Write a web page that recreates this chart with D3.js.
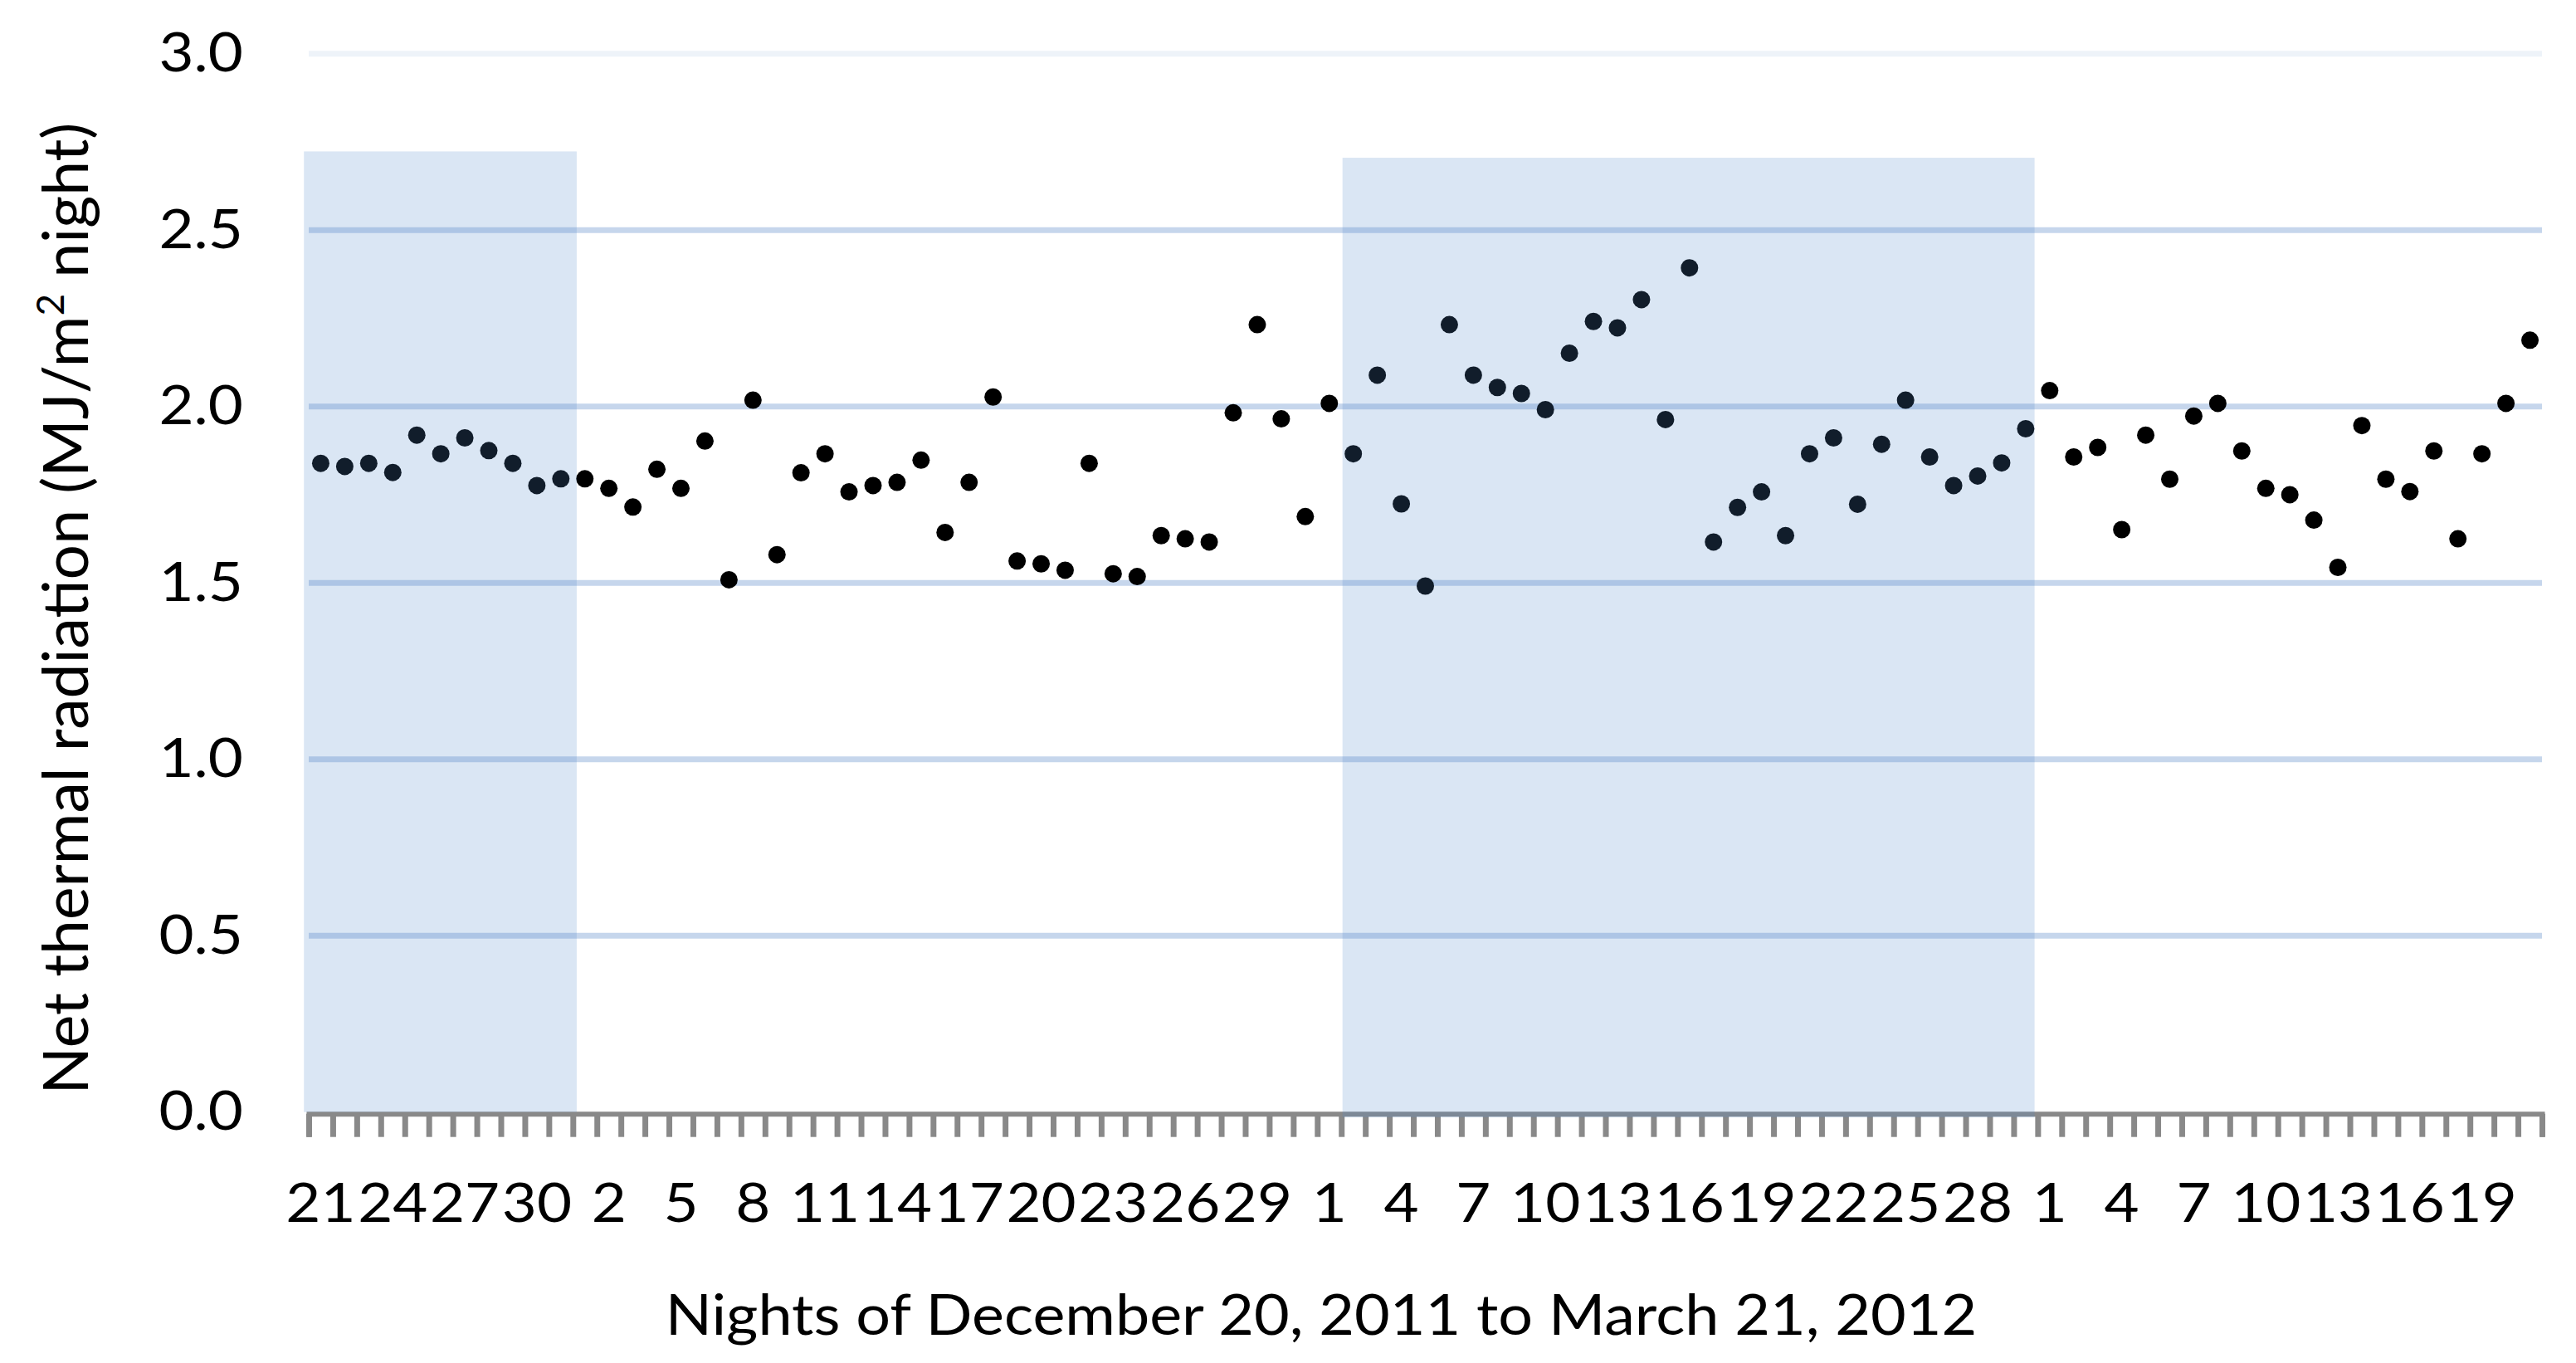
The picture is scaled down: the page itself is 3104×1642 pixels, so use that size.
<!DOCTYPE html>
<html>
<head>
<meta charset="utf-8">
<script src="https://cdn.jsdelivr.net/npm/d3@7"></script>
<style>
  html, body { margin: 0; padding: 0; background: #ffffff; }
  svg { display: block; }
  text { font-family: Lato, "Open Sans", sans-serif; fill: #000; }
</style>
</head>
<body>
<svg id="chart" width="3104" height="1642"></svg>
<script>
// Net thermal radiation per night (MJ/m2 night), 93 nights
const values = [
  1.839, 1.830, 1.839, 1.813, 1.919, 1.866, 1.911, 1.875, 1.839, 1.776,
  1.795, 1.795, 1.768, 1.715, 1.822, 1.768, 1.902, 1.509, 2.018, 1.580,
  1.812, 1.866, 1.758, 1.776, 1.785, 1.848, 1.643, 1.785, 2.027, 1.562,
  1.554, 1.536, 1.839, 1.526, 1.518, 1.634, 1.625, 1.616, 1.982, 2.232,
  1.965, 1.688, 2.009, 1.866, 2.089, 1.724, 1.491, 2.232, 2.089, 2.054,
  2.037, 1.991, 2.151, 2.241, 2.223, 2.303, 1.963, 2.393, 1.616, 1.714,
  1.758, 1.634, 1.866, 1.911, 1.723, 1.893, 2.018, 1.857, 1.776, 1.803,
  1.840, 1.937, 2.045, 1.857, 1.884, 1.651, 1.919, 1.794, 1.973, 2.009,
  1.874, 1.768, 1.750, 1.678, 1.544, 1.946, 1.794, 1.759, 1.874, 1.625,
  1.866, 2.009, 2.188
];
// Category tick labels shown (every third night)
const xTickLabels = [
  "21", "24", "27", "30", "2", "5", "8", "11", "14", "17", "20", "23", "26", "29",
  "1", "4", "7", "10", "13", "16", "19", "22", "25", "28",
  "1", "4", "7", "10", "13", "16", "19"
];
const labelEvery = 3;
const yTicks = [0.0, 0.5, 1.0, 1.5, 2.0, 2.5, 3.0];
// Shaded periods, in category units (start, end) and value units (bottom, top)
const shadeStart = [-0.2, 43.05];
const shadeEnd = [11.16, 71.87];
const shadeTop = [2.723, 2.705];
const shadeBottom = [0.0, -0.015];

const xTitle = "Nights of December 20, 2011 to March 21, 2012";

(function () {
const svg = d3.select("#chart");
const W = 3104, H = 1642;
const mLeft = 372, mRight = 3063, mTop = 64.7, mBottom = 1339.7;
const stretch = 1.1;

const n = values.length;
const x = d3.scaleBand().domain(d3.range(n)).range([mLeft, mRight]).padding(0);
const xc = d3.scaleLinear().domain([0, n]).range([mLeft, mRight]);
const y = d3.scaleLinear().domain([0, 3]).range([mBottom, mTop]);

svg.append("rect").attr("width", W).attr("height", H).attr("fill", "#fff");

// gridlines
svg.append("g").selectAll("line").data(yTicks.filter(d => d > 0)).join("line")
  .attr("x1", mLeft).attr("x2", mRight)
  .attr("y1", d => y(d)).attr("y2", d => y(d))
  .attr("stroke", d => d === 3 ? "#eef3f9" : "#c6d6ec")
  .attr("stroke-width", 7);

// x axis (tick marks between categories)
const gx = svg.append("g").attr("transform", `translate(0,${mBottom + 2})`)
  .call(d3.axisBottom(xc).tickValues(d3.range(0, n + 1)).tickFormat("")
    .tickSize(28).tickSizeOuter(28));
gx.select(".domain").attr("stroke", "#898989").attr("stroke-width", 6);
gx.selectAll(".tick line").attr("stroke", "#898989").attr("stroke-width", 7);

// x tick labels
const gxl = svg.append("g").attr("transform", `translate(0,${mBottom})`)
  .call(d3.axisBottom(x).tickValues(d3.range(0, n, labelEvery))
    .tickFormat(i => xTickLabels[i / labelEvery]).tickSize(0));
gxl.select(".domain").remove();
gxl.selectAll("text")
  .attr("y", 132).attr("dy", 0)
  .attr("font-size", 66)
  .attr("font-family", "Lato, 'Open Sans', sans-serif")
  .attr("fill", "#000")
  .attr("transform", `scale(${stretch},1)`);

// y axis labels
const gy = svg.append("g").attr("transform", `translate(${mLeft},0)`)
  .call(d3.axisLeft(y).tickValues(yTicks).tickFormat(d3.format(".1f")).tickSize(0).tickPadding(72));
gy.select(".domain").remove();
gy.selectAll("text")
  .attr("font-size", 66)
  .attr("font-family", "Lato, 'Open Sans', sans-serif")
  .attr("fill", "#000")
  .attr("transform", `scale(${stretch},1)`);

// points
svg.append("g").selectAll("circle").data(values).join("circle")
  .attr("cx", (d, i) => x(i) + x.bandwidth() / 2)
  .attr("cy", d => y(d))
  .attr("r", 10.5)
  .attr("fill", "#000");

// shaded periods (translucent, on top)
svg.append("g").selectAll("rect").data(shadeStart).join("rect")
  .attr("x", (d, i) => xc(shadeStart[i]))
  .attr("width", (d, i) => xc(shadeEnd[i]) - xc(shadeStart[i]))
  .attr("y", (d, i) => y(shadeTop[i]))
  .attr("height", (d, i) => y(shadeBottom[i]) - y(shadeTop[i]))
  .attr("fill", "rgb(82,135,202)")
  .attr("fill-opacity", 0.21);

// axis titles
svg.append("text")
  .attr("transform", `translate(1592,1608) scale(${stretch},1)`)
  .attr("text-anchor", "middle")
  .attr("font-size", 67)
  .text(xTitle);

const yt = svg.append("text")
  .attr("transform", `translate(106,733) rotate(-90)`)
  .attr("text-anchor", "middle")
  .attr("font-size", 75);
yt.append("tspan").text("Net thermal radiation (MJ/m");
yt.append("tspan").attr("font-size", 46).attr("dy", -29).text("2");
yt.append("tspan").attr("dy", 29).text(" night)");
})();
</script>
</body>
</html>
